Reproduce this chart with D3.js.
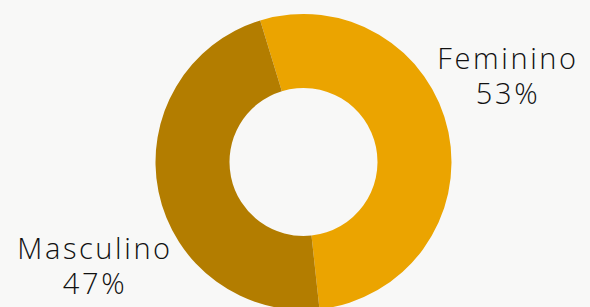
<!DOCTYPE html>
<meta charset='utf-8'>
<head>
  <title>Sexo</title>
  <style>
    body { margin: 0; background: #f8f8f7; }
    svg { display: block; }
    text { font-family: 'Open Sans', 'Noto Sans', sans-serif; font-weight: 300; fill: #111; }
  </style>
</head>
<body>
  <div id='chart'></div>
</body>
<script src='https://d3js.org/d3.v7.min.js'></script>
<script>

var categories = ['Feminino', 'Masculino'],
    values = [53, 47],
    labels = ['53%', '47%'],
    colors = ['#eba400', '#b37d00'];

var width = 590,
    height = 307,
    cx = 303.5,
    cy = 162,
    outer = 148,
    inner = 74,
    startAngle = -17 * Math.PI / 180;

// label anchors (baseline of the first line), set by hand
var labelPos = [[508, 69], [95, 259]];

var svg = d3.select('#chart').append('svg')
    .attr('width', width)
    .attr('height', height);

var pie = d3.pie()
    .sort(null)
    .startAngle(startAngle)
    .endAngle(startAngle + 2 * Math.PI);

var arc = d3.arc()
    .innerRadius(inner)
    .outerRadius(outer);

var arcs = pie(values);

var g = svg.append('g')
    .attr('transform', 'translate(' + cx + ',' + cy + ')');

g.selectAll('path')
    .data(arcs)
  .enter().append('path')
    .attr('d', arc)
    .style('fill', function(d, i) { return colors[i]; });

var lbl = svg.selectAll('g.label')
    .data(categories)
  .enter().append('g')
    .attr('class', 'label')
    .attr('transform', function(d, i) { return 'translate(' + labelPos[i][0] + ',' + labelPos[i][1] + ')'; });

lbl.append('text')
    .attr('text-anchor', 'middle')
    .style('font-size', '29px')
    .style('letter-spacing', '2.6px')
    .text(function(d) { return d; });

lbl.append('text')
    .attr('text-anchor', 'middle')
    .attr('y', 35)
    .style('font-size', '29px')
    .style('letter-spacing', '2.6px')
    .text(function(d, i) { return labels[i]; });

</script>
